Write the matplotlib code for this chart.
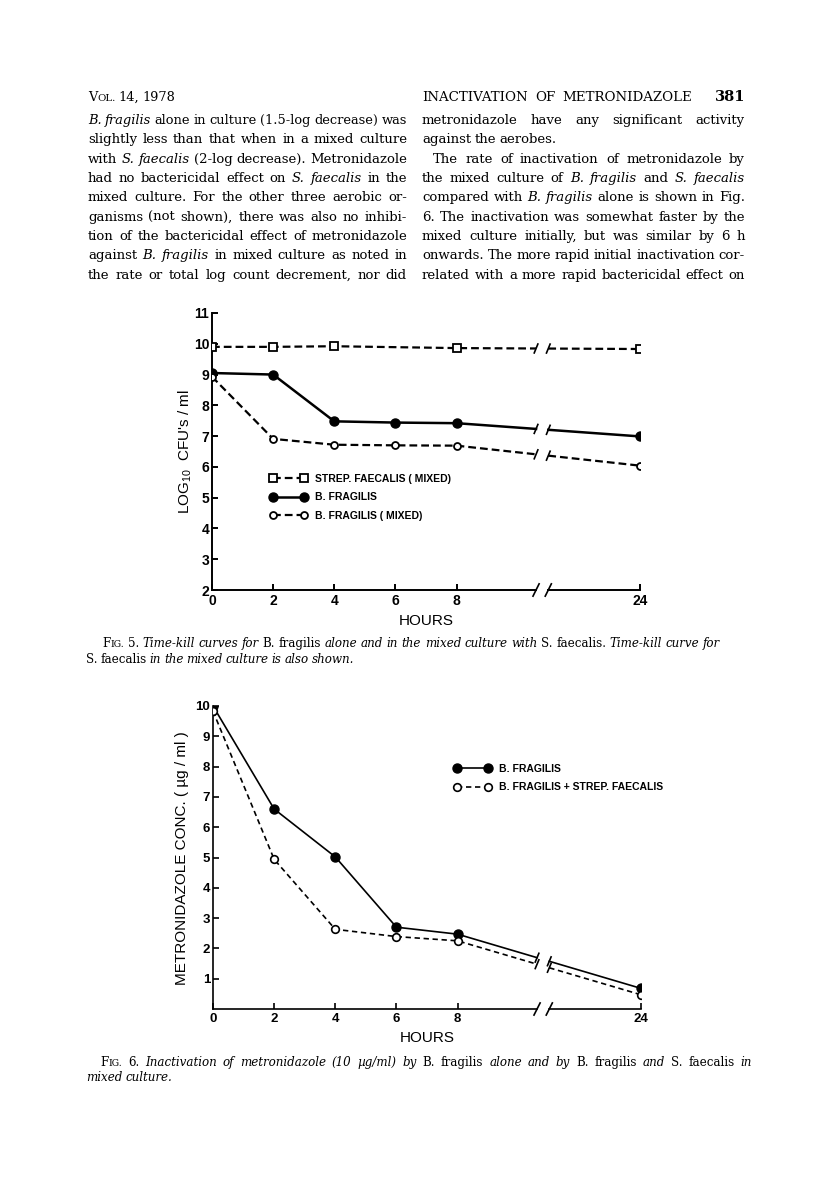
import matplotlib.pyplot as plt
import numpy as np
from matplotlib.lines import Line2D

W, H = 816, 1201
plt.rcParams['mathtext.default'] = 'regular'

# ---- Fig. 5 : time-kill curves (log10 CFU/ml) ----
hours = [0, 2, 4, 6, 8, 24]
strep_hours = [0, 2, 4, 8, 24]
strep_mixed = [9.9, 9.9, 9.92, 9.86, 9.83]
frag_alone = [9.05, 9.0, 7.48, 7.44, 7.42, 6.99]
frag_mixed = [8.93, 6.91, 6.72, 6.70, 6.69, 6.04]

# ---- Fig. 6 : metronidazole conc. (ug/ml) ----
metro_frag = [10.0, 6.6, 5.02, 2.7, 2.47, 0.68]
metro_mixed = [9.83, 4.94, 2.63, 2.39, 2.25, 0.47]

tick_hours = [0, 2, 4, 6, 8, 24]
GAP = (10.6, 11.0)  # broken part of the time axis (squeezed units)

SANS = 'Liberation Sans'
SERIF = 'DejaVu Serif'

fig = plt.figure(figsize=(W / 100, H / 100), dpi=100)
fig.patch.set_facecolor('white')


def squeeze(h):
    # 8 -> 24 h is drawn shortened, 24 h sits at 14
    h = np.asarray(h, float)
    return np.where(h <= 8, h, 8 + (h - 8) * 6 / 16)


def px_axes(x0, y0, x1, y1):
    return fig.add_axes([x0 / W, 1 - y1 / H, (x1 - x0) / W, (y1 - y0) / H])


def draw_series(ax, h, v, line_kw, mark_kw, tick_dx=0.07, tick_dy=0.17):
    xp = squeeze(h)
    v = np.asarray(v, float)
    ya = np.interp(GAP[0], xp, v)
    yb = np.interp(GAP[1], xp, v)
    left = xp <= 8
    ax.plot(np.append(xp[left], GAP[0]), np.append(v[left], ya), **line_kw)
    ax.plot([GAP[1], xp[-1]], [yb, v[-1]], **line_kw)
    for gx, gy in ((GAP[0], ya), (GAP[1], yb)):
        ax.plot([gx - tick_dx, gx + tick_dx], [gy - tick_dy, gy + tick_dy],
                color='k', lw=1.2, solid_capstyle='butt')
    ax.plot(xp, v, ls='none', zorder=5, **mark_kw)
    return Line2D([], [], **line_kw, **mark_kw)


def style_axes(ax, ylo, yhi, yticks, lw, fs, dy):
    ax.set_xlim(0, 14)
    ax.set_ylim(ylo, yhi)
    for s in ('top', 'right', 'bottom'):
        ax.spines[s].set_visible(False)
    ax.spines['left'].set_linewidth(lw)
    ax.set_xticks(squeeze(tick_hours))
    ax.set_xticklabels([str(t) for t in tick_hours])
    ax.set_yticks(yticks)
    ax.set_yticklabels([str(t) for t in yticks])
    ax.tick_params(direction='in', length=4.5, width=lw, labelsize=fs)
    ax.tick_params(axis='y', pad=2)
    ax.tick_params(axis='x', pad=3)
    for lab in ax.get_xticklabels() + ax.get_yticklabels():
        lab.set_fontfamily(SANS)
        lab.set_fontweight('bold')
    # broken x axis drawn by hand
    ax.plot([0, GAP[0]], [ylo, ylo], color='k', lw=lw, clip_on=False)
    ax.plot([GAP[1], 14], [ylo, ylo], color='k', lw=lw, clip_on=False)
    for gx in GAP:
        ax.plot([gx - 0.1, gx + 0.1], [ylo - dy, ylo + dy], color='k',
                lw=1.2, clip_on=False)
    ax.patch.set_alpha(0)


legend_kw = dict(numpoints=2, frameon=False, loc='upper left',
                 bbox_transform=fig.transFigure, borderpad=0, borderaxespad=0,
                 handlelength=3.6, handletextpad=0.7, labelspacing=0.8,
                 prop=dict(family=SANS, size=7.5, weight='bold'))

# ================= Fig. 5 =================
ax5 = px_axes(212, 313, 640, 590)
style_axes(ax5, 2, 11, list(range(2, 12)), 1.4, 10, 0.2)
dash5 = dict(color='k', lw=1.6, dashes=(3.5, 1.8))
h1 = draw_series(ax5, strep_hours, strep_mixed, dash5,
                 dict(marker='s', ms=6, mfc='white', mec='k', mew=1.3))
h2 = draw_series(ax5, hours, frag_alone, dict(color='k', lw=1.8),
                 dict(marker='o', ms=6.5, mfc='k', mec='k'))
h3 = draw_series(ax5, hours, frag_mixed, dash5,
                 dict(marker='o', ms=5, mfc='white', mec='k', mew=1.3))
ax5.set_xlabel('HOURS', fontfamily=SANS, fontsize=11, labelpad=4)
ax5.set_ylabel("LOG$_{10}$  CFU's / ml", fontfamily=SANS, fontsize=11)
ax5.yaxis.set_label_coords((194 - 212) / 428, (590 - 452) / 277)
ax5.legend([h1, h2, h3],
           ['STREP. FAECALIS ( MIXED)', 'B. FRAGILIS', 'B. FRAGILIS ( MIXED)'],
           bbox_to_anchor=(270 / W, 1 - 474 / H), **legend_kw)

# ================= Fig. 6 =================
ax6 = px_axes(213, 706, 641, 1009)
style_axes(ax6, 0, 10, list(range(1, 11)), 1.2, 9.5, 0.2)
g1 = draw_series(ax6, hours, metro_frag, dict(color='k', lw=1.2),
                 dict(marker='o', ms=6.5, mfc='k', mec='k'))
g2 = draw_series(ax6, hours, metro_mixed, dict(color='k', lw=1.2, dashes=(3.2, 2.2)),
                 dict(marker='o', ms=5.5, mfc='white', mec='k', mew=1.2))
ax6.set_xlabel('HOURS', fontfamily=SANS, fontsize=11, labelpad=4)
ax6.set_ylabel('METRONIDAZOLE CONC. ( µg / ml )', fontfamily=SANS, fontsize=11)
ax6.yaxis.set_label_coords((189 - 213) / 428, (1009 - 858) / 303)
ax6.legend([g1, g2], ['B. FRAGILIS', 'B. FRAGILIS + STREP. FAECALIS'],
           bbox_to_anchor=(454 / W, 1 - 764 / H), **legend_kw)

# ================= page text =================
renderer = fig.canvas.get_renderer()


def put_line(spec, y, x0, x1=None, size=10, base='normal', justify=True):
    other = 'italic' if base == 'normal' else 'normal'
    while True:
        words = []
        for tok in spec.split():
            style = base
            small = False
            if tok.startswith('#'):
                tok, small, style = tok[1:], True, 'normal'
            if tok.startswith('*'):
                tok, style = tok[1:], other
            pieces = [(tok[0], size), (tok[1:], size * 0.78)] if small else [(tok, size)]
            objs = []
            for txt, sz in pieces:
                t = fig.text(0, 1 - y / H, txt, fontsize=sz, fontfamily=SERIF,
                             fontstyle=style, va='baseline', ha='left')
                objs.append((t, t.get_window_extent(renderer).width))
            words.append(objs)
        widths = [sum(w for _, w in objs) for objs in words]
        gap = 0.25 * size * 100 / 72
        if justify and x1 is not None and len(words) > 1:
            gap = (x1 - x0 - sum(widths)) / (len(words) - 1)
            if gap < 0.2 * size * 100 / 72:
                # too long for the column: shrink a little and retry
                for objs in words:
                    for t, _ in objs:
                        t.remove()
                size -= 0.1
                continue
        break
    x = x0
    for objs, wd in zip(words, widths):
        xx = x
        for t, w in objs:
            t.set_x(xx / W)
            xx += w
        x += wd + gap


put_line('#VOL. 14, 1978', 101, 88, size=9.3, justify=False)
put_line('INACTIVATION OF METRONIDAZOLE', 101, 422, 692, size=9.6)
fig.text(745 / W, 1 - 101 / H, '381', fontsize=10.5, fontfamily=SERIF,
         fontweight='bold', ha='right', va='baseline')

left_col = [
    '*B. *fragilis alone in culture (1.5-log decrease) was',
    'slightly less than that when in a mixed culture',
    'with *S. *faecalis (2-log decrease). Metronidazole',
    'had no bactericidal effect on *S. *faecalis in the',
    'mixed culture. For the other three aerobic or-',
    'ganisms (not shown), there was also no inhibi-',
    'tion of the bactericidal effect of metronidazole',
    'against *B. *fragilis in mixed culture as noted in',
    'the rate or total log count decrement, nor did',
]
right_col = [
    'metronidazole have any significant activity',
    'against the aerobes.',
    'The rate of inactivation of metronidazole by',
    'the mixed culture of *B. *fragilis and *S. *faecalis',
    'compared with *B. *fragilis alone is shown in Fig.',
    '6. The inactivation was somewhat faster by the',
    'mixed culture initially, but was similar by 6 h',
    'onwards. The more rapid initial inactivation cor-',
    'related with a more rapid bactericidal effect on',
]
for i, line in enumerate(left_col):
    put_line(line, 124 + 19.35 * i, 88, 407, size=9.5)
for i, line in enumerate(right_col):
    x0 = 433 if i == 2 else 422
    put_line(line, 124 + 19.35 * i, x0, 745, size=9.5, justify=(i != 1))

put_line('#FIG. *5. Time-kill curves for *B. *fragilis alone and in the mixed '
         'culture with *S. *faecalis. Time-kill curve for', 647, 102, 720,
         size=8.6, base='italic')
put_line('*S. *faecalis in the mixed culture is also shown.', 663, 86,
         size=8.6, base='italic', justify=False)
put_line('#FIG. *6. Inactivation of metronidazole (10 µg/ml) by *B. *fragilis '
         'alone and by *B. *fragilis and *S. *faecalis in', 1066, 100, 752,
         size=8.6, base='italic')
put_line('mixed culture.', 1081, 86, size=8.6, base='italic', justify=False)

fig.savefig('out.png', dpi=100, facecolor='white')
